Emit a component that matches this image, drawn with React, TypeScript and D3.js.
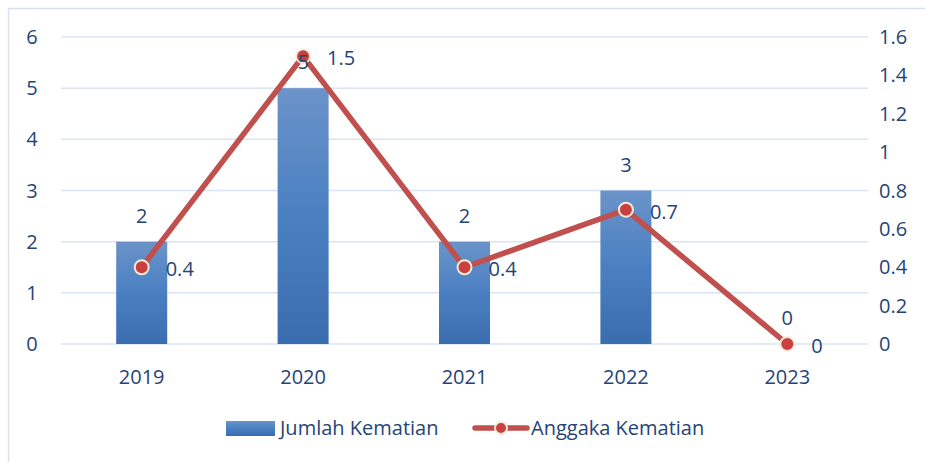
import { useEffect, useRef } from 'react'
import * as d3 from 'd3'

const years = ['2019', '2020', '2021', '2022', '2023']
const jumlahKematian = [2, 5, 2, 3, 0]
const anggakaKematian = [0.4, 1.5, 0.4, 0.7, 0]
const leftTicks = [0, 1, 2, 3, 4, 5, 6]
const rightTicks = [0, 0.2, 0.4, 0.6, 0.8, 1, 1.2, 1.4, 1.6]

const textColor = '#264478'
const lineColor = '#c0504d'
const font = 'Open Sans, Noto Sans, sans-serif'
const fontSize = '20px'

export default function App() {
  const svgRef = useRef<SVGSVGElement>(null)

  useEffect(() => {
    if (!svgRef.current) return
    const svg = d3.select(svgRef.current)
    svg.selectAll('*').remove()

    const plot = { left: 61, right: 868, top: 37, bottom: 344 }

    // gradient for the bars
    const defs = svg.append('defs')
    const grad = defs.append('linearGradient')
      .attr('id', 'barGrad')
      .attr('x1', 0).attr('y1', 0).attr('x2', 0).attr('y2', 1)
    grad.append('stop').attr('offset', '0%').attr('stop-color', '#6b93c9')
    grad.append('stop').attr('offset', '50%').attr('stop-color', '#4a80c2')
    grad.append('stop').attr('offset', '100%').attr('stop-color', '#3a6db0')

    // frame
    svg.append('rect')
      .attr('x', 8.5).attr('y', 8.5)
      .attr('width', 940).attr('height', 480)
      .attr('fill', 'none')
      .attr('stroke', '#d6e1f2')
      .attr('stroke-width', 1.5)

    const x = d3.scaleBand()
      .domain(years)
      .range([plot.left, plot.right])
      .paddingInner(0.684)
      .paddingOuter(0.342)

    const yL = d3.scaleLinear().domain([0, 6]).range([plot.bottom, plot.top])
    const yR = d3.scaleLinear().domain([0, 1.6]).range([plot.bottom, plot.top])

    const addText = (sel: d3.Selection<SVGTextElement, any, any, any>) =>
      sel.attr('dy', '0.35em')
        .style('font-family', font)
        .style('font-size', fontSize)
        .style('fill', textColor)

    // grid
    svg.append('g')
      .selectAll('line')
      .data(leftTicks)
      .enter().append('line')
      .attr('x1', plot.left).attr('x2', plot.right)
      .attr('y1', d => yL(d)).attr('y2', d => yL(d))
      .attr('stroke', '#d9e4f4')
      .attr('stroke-width', 1.5)

    // left axis labels
    svg.append('g')
      .selectAll('text')
      .data(leftTicks)
      .enter().append('text')
      .attr('x', 32)
      .attr('y', d => yL(d))
      .attr('text-anchor', 'middle')
      .call(addText)
      .text(d => d)

    // right axis labels
    svg.append('g')
      .selectAll('text')
      .data(rightTicks)
      .enter().append('text')
      .attr('x', 879)
      .attr('y', d => yR(d))
      .attr('text-anchor', 'start')
      .call(addText)
      .text(d => d)

    // x labels
    svg.append('g')
      .selectAll('text')
      .data(years)
      .enter().append('text')
      .attr('x', d => (x(d) as number) + x.bandwidth() / 2)
      .attr('y', 377)
      .attr('text-anchor', 'middle')
      .call(addText)
      .text(d => d)

    // bars
    svg.append('g')
      .selectAll('rect')
      .data(jumlahKematian)
      .enter().append('rect')
      .attr('x', (d, i) => x(years[i]) as number)
      .attr('y', d => yL(d))
      .attr('width', x.bandwidth())
      .attr('height', d => yL(0) - yL(d))
      .attr('fill', 'url(#barGrad)')

    // line
    const cx = (i: number) => (x(years[i]) as number) + x.bandwidth() / 2
    const line = d3.line<number>()
      .x((d, i) => cx(i))
      .y(d => yR(d))
    svg.append('path')
      .datum(anggakaKematian)
      .attr('d', line)
      .attr('fill', 'none')
      .attr('stroke', lineColor)
      .attr('stroke-width', 5.5)
      .attr('stroke-linejoin', 'round')

    svg.append('g')
      .selectAll('circle')
      .data(anggakaKematian)
      .enter().append('circle')
      .attr('cx', (d, i) => cx(i))
      .attr('cy', d => yR(d))
      .attr('r', 7)
      .attr('fill', '#c9403e')
      .attr('stroke', '#efebdf')
      .attr('stroke-width', 2)

    // bar labels (drawn over the line, as in the original)
    svg.append('g')
      .selectAll('text')
      .data(jumlahKematian)
      .enter().append('text')
      .attr('x', (d, i) => (x(years[i]) as number) + x.bandwidth() / 2)
      .attr('y', d => yL(d) - 26)
      .attr('text-anchor', 'middle')
      .call(addText)
      .text(d => d)

    // line labels
    svg.append('g')
      .selectAll('text')
      .data(anggakaKematian)
      .enter().append('text')
      .attr('x', (d, i) => cx(i) + 24)
      .attr('y', d => yR(d) + 2)
      .attr('text-anchor', 'start')
      .call(addText)
      .text(d => d)

    // legend
    const leg = svg.append('g')
    leg.append('rect')
      .attr('x', 226).attr('y', 421)
      .attr('width', 49).attr('height', 15)
      .attr('fill', 'url(#barGrad)')
    leg.append('text')
      .attr('x', 280).attr('y', 428)
      .call(addText)
      .text('Jumlah Kematian')
    leg.append('line')
      .attr('x1', 475).attr('x2', 527)
      .attr('y1', 428).attr('y2', 428)
      .attr('stroke', lineColor)
      .attr('stroke-width', 5.5)
      .attr('stroke-linecap', 'round')
    leg.append('circle')
      .attr('cx', 501).attr('cy', 428)
      .attr('r', 6)
      .attr('fill', '#c9403e')
      .attr('stroke', '#efebdf')
      .attr('stroke-width', 2)
    leg.append('text')
      .attr('x', 531).attr('y', 428)
      .call(addText)
      .text('Anggaka Kematian')
  }, [])

  return (
    <svg
      ref={svgRef}
      width={925}
      height={462}
      style={{ position: 'absolute', left: 0, top: 0, background: '#fff' }}
    />
  )
}
